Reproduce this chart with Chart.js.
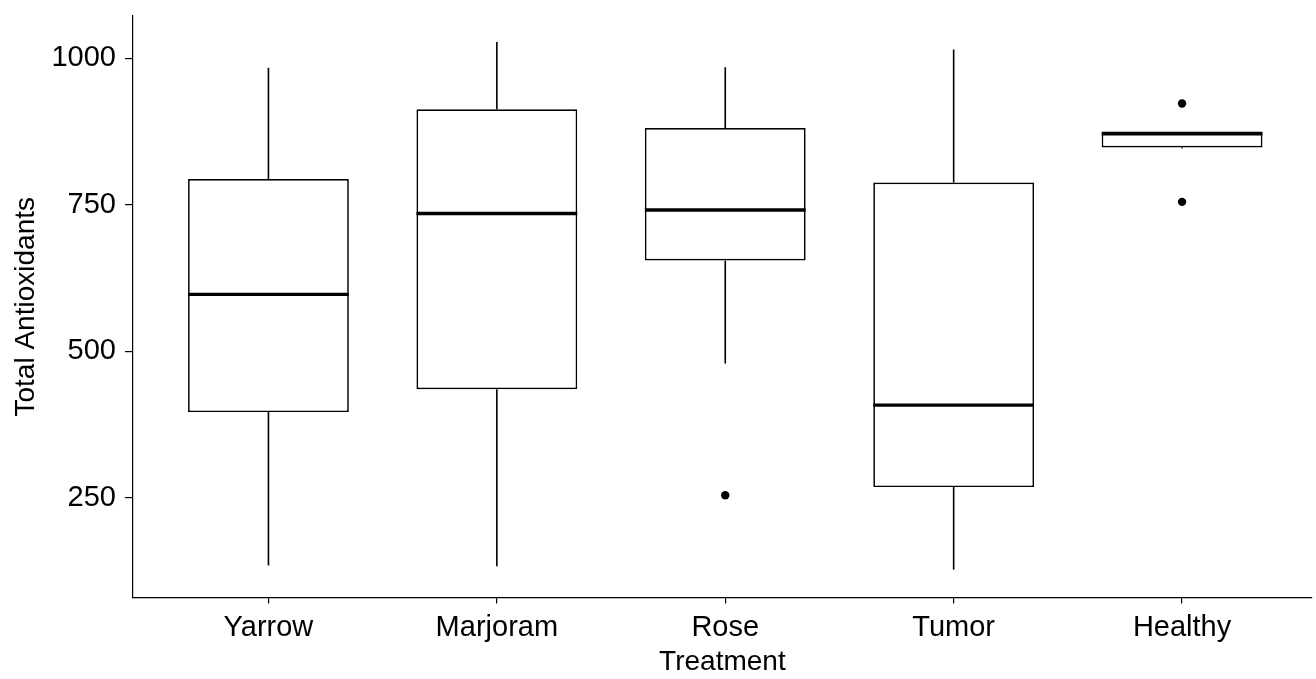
<!DOCTYPE html>
<html>
<head>
<meta charset="utf-8">
<script src="https://cdn.jsdelivr.net/npm/chart.js@4/dist/chart.umd.min.js"></script>
<style>
  html, body { margin: 0; padding: 0; background: #fff; }
  canvas { display: block; }
</style>
</head>
<body>
<canvas id="boxChart" width="1316" height="679"></canvas>
<script>
// boxplot values
const categories = ["Yarrow", "Marjoram", "Rose", "Tumor", "Healthy"];
const whiskerLow = [134, 133, 479, 127, 846];
const q1 = [396, 435, 655, 268, 848];
const median = [597, 735, 741, 408, 871];
const q3 = [794, 913, 881, 788, 875];
const whiskerHigh = [984, 1028, 985, 1015, 875];
// outliers: index of the group and the value
const outlierGroup = [2, 4, 4];
const outlierValue = [254, 923, 755];
const yTicks = [250, 500, 750, 1000];

const textFont = { family: "'Liberation Sans', Arial, sans-serif", size: 29 };
const titleFont = { family: "'Liberation Sans', Arial, sans-serif", size: 28 };

// whiskers and median lines, drawn with the chart's own scales
const boxParts = {
  id: "boxParts",
  afterDatasetsDraw(chart) {
    const ctx = chart.ctx;
    const y = chart.scales.y;
    const meta = chart.getDatasetMeta(0);
    meta.data.forEach((bar, i) => {
      const cx = bar.x;
      const half = bar.width / 2;
      ctx.save();
      ctx.strokeStyle = "#000";
      ctx.lineWidth = 1.6;
      ctx.beginPath();
      ctx.moveTo(cx, y.getPixelForValue(q3[i]));
      ctx.lineTo(cx, y.getPixelForValue(whiskerHigh[i]));
      ctx.moveTo(cx, y.getPixelForValue(q1[i]));
      ctx.lineTo(cx, y.getPixelForValue(whiskerLow[i]));
      ctx.stroke();
      ctx.lineWidth = 3.4;
      ctx.beginPath();
      ctx.moveTo(cx - half, y.getPixelForValue(median[i]));
      ctx.lineTo(cx + half, y.getPixelForValue(median[i]));
      ctx.stroke();
      ctx.restore();
    });
  }
};

const ctx = document.getElementById("boxChart").getContext("2d");
const chart = new Chart(ctx, {
  type: "bar",
  data: {
    datasets: [
      {
        type: "bar",
        data: categories.map((c, i) => ({ x: i, y: [q1[i], q3[i]] })),
        backgroundColor: "#fff",
        borderColor: "#000",
        borderWidth: 1.7,
        borderSkipped: false,
        barPercentage: 0.704,
        categoryPercentage: 1
      },
      {
        type: "scatter",
        data: outlierGroup.map((g, k) => ({ x: g, y: outlierValue[k] })),
        pointRadius: 4.2,
        pointBorderWidth: 0,
        backgroundColor: "#000",
        borderColor: "#000"
      }
    ]
  },
  options: {
    responsive: false,
    animation: false,
    layout: { padding: { top: 16, right: 0, bottom: 0, left: 0 } },
    plugins: {
      legend: { display: false },
      tooltip: { enabled: false }
    },
    scales: {
      x: {
        type: "linear",
        offset: false,
        min: -0.593,
        max: 4.568,
        afterBuildTicks: (scale) => {
          scale.ticks = categories.map((c, i) => ({ value: i }));
        },
        afterFit: (scale) => {
          scale.height = 81.5;
          scale.paddingLeft = 0;
          scale.paddingRight = 0;
        },
        grid: { offset: false, drawOnChartArea: false, color: "#000", tickLength: 6, lineWidth: 1.2 },
        border: { display: true, color: "#000", width: 1.2 },
        ticks: {
          color: "#000",
          font: textFont,
          padding: 7,
          maxRotation: 0,
          callback: (v) => categories[v]
        },
        title: { display: true, text: "Treatment", color: "#000", font: titleFont, padding: { top: 1, bottom: 0 } }
      },
      y: {
        min: 79.5,
        max: 1072.3,
        afterBuildTicks: (scale) => {
          scale.ticks = yTicks.map((v) => ({ value: v }));
        },
        afterFit: (scale) => {
          scale.width = 133;
          scale.paddingTop = 0;
          scale.paddingBottom = 0;
        },
        grid: { drawOnChartArea: false, color: "#000", tickLength: 8, lineWidth: 1.2 },
        border: { display: true, color: "#000", width: 1.2 },
        ticks: { color: "#000", font: textFont, padding: 9, callback: (v) => String(v) },
        title: { display: true, text: "Total Antioxidants", color: "#000", font: titleFont, padding: { top: 9, bottom: 0 } }
      }
    }
  },
  plugins: [boxParts]
});
</script>
</body>
</html>
